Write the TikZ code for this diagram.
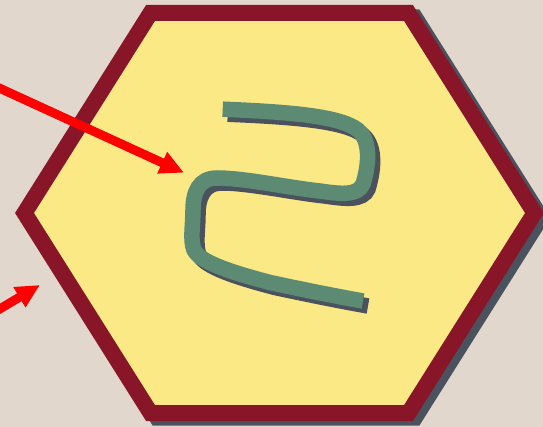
\documentclass[tikz,border=0pt]{standalone}
\usepackage{xcolor}
\usetikzlibrary{arrows.meta}
\definecolor{hexbg}{HTML}{E2D7CC}
\definecolor{hexfill}{HTML}{FBE986}
\definecolor{hexrim}{HTML}{891528}
\definecolor{hexshade}{HTML}{4A525E}
\definecolor{hexpipe}{HTML}{5D8A72}
\definecolor{hexred}{HTML}{FF0000}
\newcommand{\hexoutline}{(150.5,13) -- (408.5,13) -- (534.5,213) -- (408.5,413) -- (150.5,413) -- (24.5,213) -- cycle}
\newcommand{\pipeline}{(222.7,109.2) .. controls (290,112) and (340,116) .. (358,130)
  .. controls (372,142) and (368,168) .. (363,184)
  .. controls (358,196) and (340,194) .. (320,191)
  .. controls (290,188) and (245,178) .. (217,178)
  .. controls (199,178) and (193,192) .. (193,210)
  .. controls (193,225) and (190,240) .. (194,250)
  .. controls (200,262) and (230,272) .. (270,282.5)
  .. controls (300,289) and (340,297) .. (363,301)}

\begin{document}
\begin{tikzpicture}[x=1pt, y=-1pt,
  rim/.style={line width=16pt, line join=miter},
  pipe/.style={line width=15.5pt, line cap=butt},
  pointer/.style={-{Triangle[length=24pt, width=22pt]}, hexred, line width=9pt},
]
\fill[hexbg] (0,0) rectangle (543,427);
\clip (0,0) rectangle (543,427);
% hexagon and its shadow
\draw[rim, draw=hexshade, fill=hexshade, shift={(6.5,4.5)}] \hexoutline;
\draw[rim, draw=hexrim, fill=hexfill] \hexoutline;
% bent pipe and its shadow
\draw[pipe, hexshade, shift={(5,5)}] \pipeline;
\draw[pipe, hexpipe] \pipeline;
% pointers
\coordinate (upfrom) at (-20,79.2);
\coordinate (uptip) at (184,172.7);
\coordinate (lowfrom) at (-20,320.7);
\coordinate (lowtip) at (40,285);
\draw[pointer] (upfrom) -- (uptip);
\draw[pointer] (lowfrom) -- (lowtip);
\end{tikzpicture}
\end{document}
